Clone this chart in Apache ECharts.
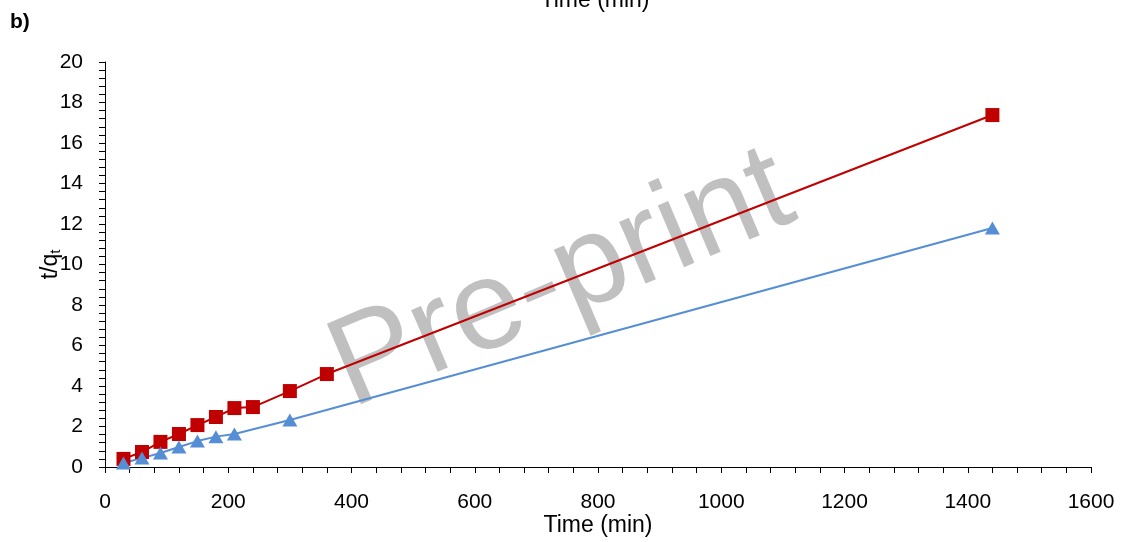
<!DOCTYPE html>
<html>
<head>
<meta charset="utf-8">
<script src="https://cdn.jsdelivr.net/npm/echarts@6/dist/echarts.min.js"></script>
<style>
    html, body { margin: 0; padding: 0; background: #fff; }
    #container0 { width: 1127px; height: 542px; }
</style>
</head>
<body>
<div id="container0"></div>
<script>
// 数据
var timeRed = [30, 60, 90, 120, 150, 180, 210, 240, 300, 360, 1440];
var tqRed = [0.40, 0.74, 1.24, 1.63, 2.07, 2.47, 2.91, 2.96, 3.75, 4.59, 17.38];
var timeBlue = [30, 60, 90, 120, 150, 180, 210, 300, 1440];
var tqBlue = [0.20, 0.44, 0.69, 0.99, 1.28, 1.50, 1.63, 2.32, 11.80];

var font = '"Liberation Sans", Arial, sans-serif';

function pairs(xs, ys) {
    return xs.map(function (x, i) { return [x, ys[i]]; });
}

var opt_chart_0 = {
    animation: false,
    textStyle: { fontFamily: font },
    grid: {
        left: 105,
        right: 36,
        top: 62,
        bottom: 75,
        outerBoundsMode: 'none'
    },
    graphic: [
        {
            type: 'text',
            x: 562,
            y: 281,
            rotation: 23 * Math.PI / 180,
            z: 0,
            style: {
                text: 'Pre-print',
                fill: '#c0c0c0',
                font: '127px ' + font,
                textAlign: 'center',
                textVerticalAlign: 'middle'
            }
        },
        {
            // 上一张图被截掉的横轴标题
            type: 'text',
            x: 595,
            y: 1,
            style: {
                text: 'Time (min)',
                fill: '#000',
                font: '23px ' + font,
                textAlign: 'center',
                textVerticalAlign: 'middle'
            }
        },
        {
            type: 'text',
            x: 10,
            y: 22,
            style: {
                text: 'b)',
                fill: '#000',
                font: 'bold 21px ' + font,
                textAlign: 'left',
                textVerticalAlign: 'middle'
            }
        }
    ],
    xAxis: {
        type: 'value',
        min: 0,
        max: 1600,
        interval: 200,
        name: 'Time (min)',
        nameLocation: 'middle',
        nameGap: 47,
        nameMoveOverlap: false,
        nameTextStyle: { color: '#000', fontSize: 23, fontFamily: font },
        axisLine: { lineStyle: { color: '#000', width: 1 } },
        axisTick: { show: true, length: 6, lineStyle: { color: '#000' } },
        minorTick: { show: true, splitNumber: 5, length: 6, lineStyle: { color: '#000' } },
        axisLabel: {
            color: '#000', fontSize: 21, margin: 25, fontFamily: font,
            formatter: function (v) { return String(v); }
        },
        splitLine: { show: false }
    },
    yAxis: {
        type: 'value',
        min: 0,
        max: 20,
        interval: 2,
        name: '{a|t/q}{b|t}',
        nameLocation: 'middle',
        nameGap: 42,
        nameRotate: 90,
        nameMoveOverlap: false,
        nameTextStyle: {
            color: '#000',
            fontFamily: font,
            rich: {
                a: { fontSize: 23, color: '#000', fontFamily: font },
                b: { fontSize: 15, color: '#000', fontFamily: font, verticalAlign: 'bottom', padding: [10, 0, 0, 0] }
            }
        },
        axisLine: { show: true, lineStyle: { color: '#000', width: 1 } },
        axisTick: { show: true, length: 6, lineStyle: { color: '#000' } },
        minorTick: { show: true, splitNumber: 5, length: 6, lineStyle: { color: '#000' } },
        axisLabel: { color: '#000', fontSize: 21, margin: 22, fontFamily: font },
        splitLine: { show: false }
    },
    series: [
        {
            name: 'red',
            type: 'line',
            z: 3,
            data: pairs(timeRed, tqRed),
            symbol: 'rect',
            symbolSize: 14,
            itemStyle: { color: '#c00000' },
            lineStyle: { color: '#c00000', width: 2 }
        },
        {
            name: 'blue',
            type: 'line',
            z: 3,
            data: pairs(timeBlue, tqBlue),
            symbol: 'triangle',
            symbolSize: [15, 13],
            itemStyle: { color: '#558ed5' },
            lineStyle: { color: '#558ed5', width: 2 }
        }
    ]
};

var chart_0 = echarts.init(document.getElementById('container0'));
chart_0.setOption(opt_chart_0);
</script>
</body>
</html>
